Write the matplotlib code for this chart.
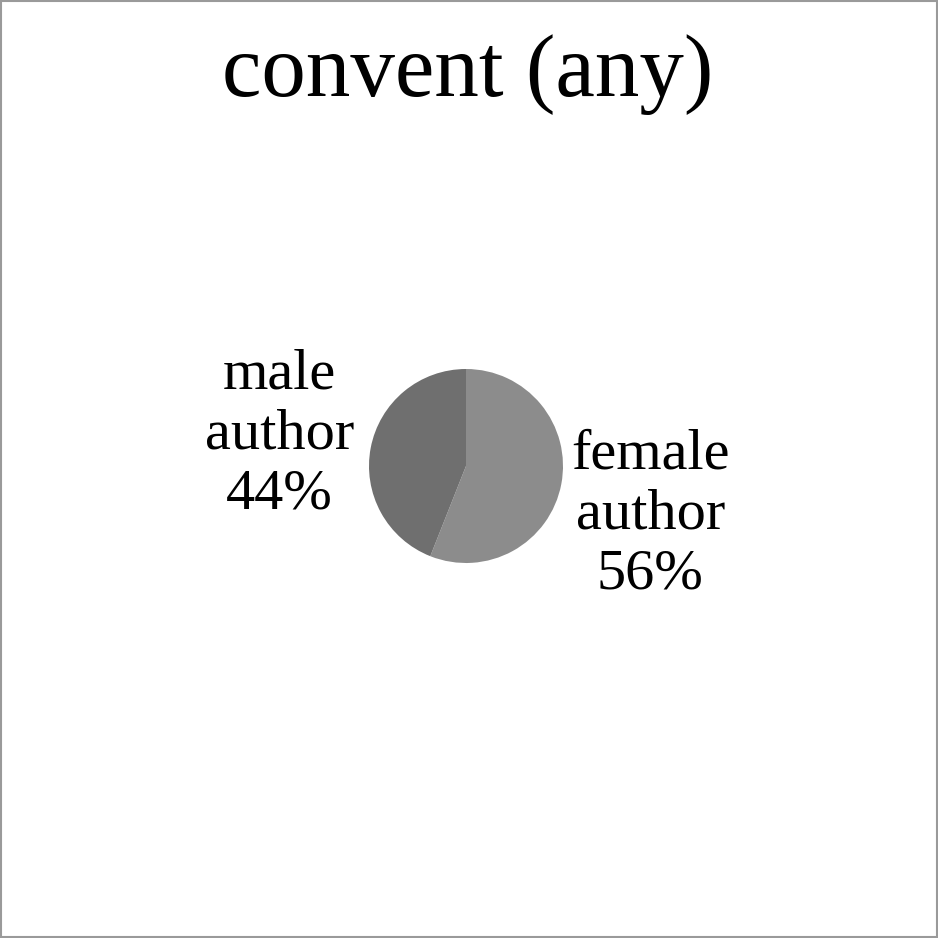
import matplotlib
matplotlib.use("Agg")
import matplotlib.pyplot as plt
from matplotlib.patches import Rectangle

# data
labels = ["female\nauthor\n56%", "male\nauthor\n44%"]
shares = [56, 44]
colors = ["#8c8c8c", "#6f6f6f"]
title = "convent (any)"

plt.rcParams['font.family'] = ['Liberation Serif', 'DejaVu Serif']

fig = plt.figure(figsize=(9.38, 9.38), dpi=100)

# outer grey frame
fig.patches.append(Rectangle((0.0015, 0.0015), 0.997, 0.997, transform=fig.transFigure,
                             fill=False, edgecolor="#9a9a9a", linewidth=1.5))

fig.text(0.499, 0.921, title, ha="center", va="center", fontsize=64)

# pie radius ~97 px, centre ~(466, 466) px
w = 2.5 * 97 / 938
ax = fig.add_axes([466 / 938 - w / 2, 472 / 938 - w / 2, w, w])
wedges, texts = ax.pie(shares, labels=labels, colors=colors, startangle=90,
                       counterclock=False, labeldistance=1.95,
                       wedgeprops=dict(linewidth=0))
# label spots as seen in the reference (in pie radii)
label_pos = [(1.90, -0.50), (-1.92, 0.32)]
for t, pos in zip(texts, label_pos):
    t.set_position(pos)
    t.set_ha("center")
    t.set_va("center")
    t.set_fontsize(42)
    t.set_linespacing(1.2)
ax.set_aspect("equal")

fig.savefig("out.png", dpi=100)
